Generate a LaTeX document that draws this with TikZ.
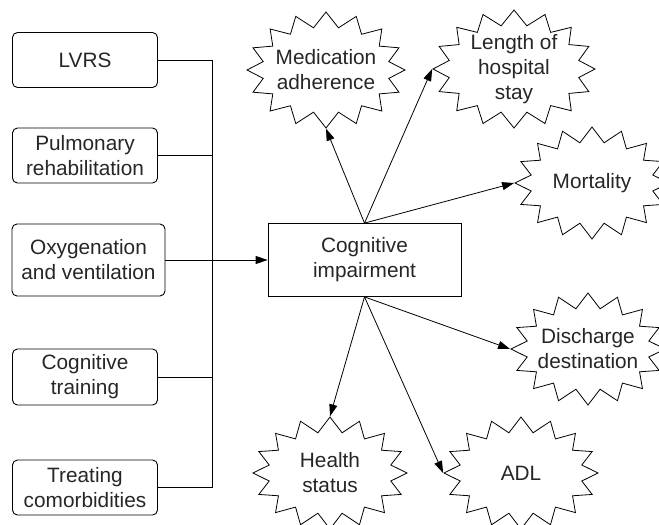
\documentclass[tikz,border=0pt]{standalone}
\usepackage{fontspec}
\setmainfont{Liberation Sans}
\usetikzlibrary{shapes.symbols,arrows.meta}
\begin{document}
\begin{tikzpicture}[x=1pt,y=-1pt,
  every node/.style={font=\fontsize{20.8}{25}\selectfont, text=black!85},
  lbox/.style={draw, rounded corners=5pt, line width=0.9pt, align=center, inner sep=0pt, minimum width=145pt, minimum height=55pt},
  cbox/.style={draw, line width=0.8pt, align=center, inner sep=0pt, minimum width=193pt, minimum height=73pt},
  burst/.style={draw, starburst, starburst points=16, random starburst=0, starburst point height=15pt, inner sep=0pt, line width=0.8pt, minimum width=154pt, minimum height=112pt},
  btext/.style={align=center, inner sep=0pt},
  conn/.style={line width=0.8pt},
  arr/.style={line width=0.8pt, -{Triangle[length=12pt,width=8pt]}}]
\useasboundingbox (0,0) rectangle (659,525);
% left boxes
\node[lbox] (lvrs) at (85,60) {LVRS};
\node[lbox] (pulm) at (85,155.5) {Pulmonary\\rehabilitation};
\node[lbox, minimum width=153pt, minimum height=72pt] (oxy) at (88.5,260) {Oxygenation\\and ventilation};
\node[lbox, minimum height=56pt] (cogt) at (85,377) {Cognitive\\training};
\node[lbox] (treat) at (85,487.5) {Treating\\comorbidities};
% center
\node[cbox] (ci) at (364.5,260) {Cognitive\\impairment};
% bursts
\node[burst, minimum width=158pt, minimum height=116pt] (med) at (326,70) {};
\node[btext] (medt) at (med.center) {Medication\\adherence};
\node[burst, minimum width=162pt, minimum height=118pt] (los) at (514,69) {};
\node[btext] (lost) at (los.center) {Length of\\hospital\\stay};
\node[burst] (mort) at (592,183) {};
\node[btext] (mortt) at (mort.center) {Mortality};
\node[burst] (dis) at (588,349) {};
\node[btext] (dist) at (dis.center) {Discharge\\destination};
\node[burst] (adl) at (521,473) {};
\node[btext] (adlt) at (adl.center) {ADL};
\node[burst] (hs) at (330,473) {};
\node[btext] (hst) at (hs.center) {Health\\status};
% bus
\coordinate (bt) at (212,60);
\coordinate (bb) at (212,487.5);
\coordinate (bo) at (212,260);
\draw[conn] (bt) -- (bb);
\draw[conn] (lvrs.east) -- (lvrs.east -| bt);
\draw[conn] (pulm.east) -- (pulm.east -| bt);
\draw[conn] (oxy.east) -- (bo);
\draw[conn] (cogt.east) -- (cogt.east -| bt);
\draw[conn] (treat.east) -- (treat.east -| bt);
\draw[arr] (bo) -- (ci.west);
% outputs
\draw[arr] (ci.north) -- (med.south);
\draw[arr] (ci.north) -- (los.west);
\draw[arr] (ci.north) -- (mort.west);
\draw[arr] (ci.south) -- (hs.north);
\draw[arr] (ci.south) -- (adl.west);
\draw[arr] (ci.south) -- (dis.west);
\end{tikzpicture}
\end{document}
